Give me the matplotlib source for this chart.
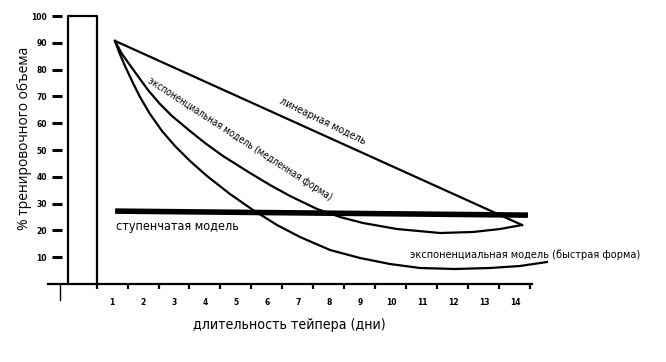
#
# Taper models: % training volume vs taper duration
#
import matplotlib.pyplot as plt

# Data
days = list(range(1, 15))
dayEdges = [d - 0.5 for d in range(1, 16)]
yTicks = [10, 20, 30, 40, 50, 60, 70, 80, 90, 100]

baseX = [-0.42, -0.42, 0.5, 0.5]
baseY = [0, 100, 100, 0]

linX = [1.10, 14.23]
linY = [90.7, 22.0]

stepX = [1.10, 14.42]
stepY = [27.2, 25.7]

slowX = [1.097, 1.323, 1.645, 2.161, 2.548, 2.935, 3.516, 4.000, 4.581, 5.452,
         6.097, 6.742, 7.613, 8.355, 9.097, 10.194, 11.581, 12.645, 13.516,
         14.226]
slowY = [90.67, 85.82, 80.60, 72.39, 67.16, 62.69, 57.09, 52.61, 47.76, 41.42,
         36.94, 32.84, 27.99, 25.00, 22.76, 20.52, 19.03, 19.40, 20.52, 22.01]

fastX = [1.097, 1.226, 1.419, 1.677, 1.903, 2.226, 2.613, 3.032, 3.516, 4.065,
         4.806, 5.548, 6.323, 7.065, 8.032, 9.000, 9.968, 10.935, 12.065,
         13.194, 14.161, 15.032]
fastY = [90.67, 86.57, 81.34, 75.00, 69.78, 63.43, 57.09, 51.49, 45.90, 40.30,
         33.58, 27.61, 22.01, 17.54, 12.69, 9.70, 7.46, 5.97, 5.60, 5.97, 6.72,
         8.21]

cond = dict(family='DejaVu Sans', stretch='condensed')

fig = plt.figure(figsize=[6.66, 3.62], dpi=100, facecolor='w')
ax = fig.add_axes([62/666, 78/362, 498/666, 274/362])
ax.set_xlim(-0.613, 15.452)
ax.set_ylim(0, 102.24)
for s in ['top', 'right', 'left', 'bottom']:
    ax.spines[s].set_visible(False)

# baseline bar (100%)
ax.plot(baseX, baseY, '-', color='k', linewidth=1.6, clip_on=False)

# models
ax.plot(linX, linY, '-', color='k', linewidth=1.6, clip_on=False)
ax.plot(slowX, slowY, '-', color='k', linewidth=1.6, clip_on=False)
ax.plot(fastX, fastY, '-', color='k', linewidth=1.6, clip_on=False)
ax.plot(stepX, stepY, '-', color='k', linewidth=4.0, clip_on=False,
        solid_capstyle='butt')

# x axis line
ax.plot([-1.06, 14.55], [0, 0], '-', color='k', linewidth=1.6, clip_on=False)
ax.plot([-0.68, -0.68], [-6, 0], '-', color='k', linewidth=1.0, clip_on=False)

# ticks
ax.set_yticks(yTicks)
ax.set_yticklabels([str(v) for v in yTicks], fontsize=5.5, fontweight='bold')
ax.tick_params(axis='y', direction='out', length=7.2, width=2.2, pad=3.6)
ax.set_xticks(days)
ax.set_xticklabels([str(d) for d in days], fontsize=5.5, fontweight='bold')
ax.set_xticks(dayEdges, minor=True)
ax.tick_params(axis='x', which='major', length=0, pad=10)
ax.tick_params(axis='x', which='minor', direction='out', length=3.6, width=1.6)

ax.set_ylabel('% тренировочного объема', fontsize=10, family=['Open Sans', 'DejaVu Sans'])
ax.yaxis.set_label_coords(-0.06, 0.533)
ax.set_xlabel('длительность тейпера (дни)', fontsize=10.2, **cond)
ax.xaxis.set_label_coords(0.456, -0.124)

# annotations
ax.text(7.81, 60.8, 'линеарная модель', fontsize=7.7, rotation=-26,
        rotation_mode='anchor', ha='center', va='center', **cond)
ax.text(5.13, 54.1, 'экспоненциальная модель (медленная форма)', fontsize=7.0,
        rotation=-33, rotation_mode='anchor', ha='center', va='center', **cond)
ax.text(1.13, 21.3, 'ступенчатая модель', fontsize=9.0, ha='left',
        va='center', **cond)
ax.text(10.61, 10.8, 'экспоненциальная модель (быстрая форма)', fontsize=7.8,
        ha='left', va='center', **cond)

plt.savefig('out.png', dpi=100, facecolor='w')
plt.close()
